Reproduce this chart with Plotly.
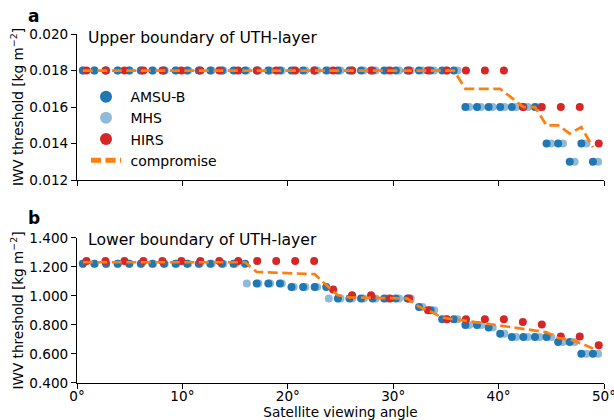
import plotly.graph_objects as go

# ---------------- data ----------------
amsub_angle = [0.55, 1.65, 2.75, 3.85, 4.95, 6.05, 7.15, 8.25, 9.35, 10.45, 11.55, 12.65, 13.75, 14.85, 15.95,
               17.05, 18.15, 19.25, 20.35, 21.45, 22.55, 23.65, 24.75, 25.85, 26.95, 28.05, 29.15, 30.25, 31.35,
               32.45, 33.55, 34.65, 35.75, 36.85, 37.95, 39.05, 40.15, 41.25, 42.35, 43.45, 44.55, 45.65, 46.75,
               47.85, 48.95]
mhs_angle = [0.56, 1.67, 2.78, 3.89, 5.00, 6.11, 7.22, 8.33, 9.44, 10.56, 11.67, 12.78, 13.89, 15.00, 16.11,
             17.22, 18.33, 19.44, 20.56, 21.67, 22.78, 23.89, 25.00, 26.11, 27.22, 28.33, 29.44, 30.56, 31.67,
             32.78, 33.89, 35.00, 36.11, 37.22, 38.33, 39.44, 40.56, 41.67, 42.78, 43.89, 45.00, 46.11, 47.22,
             48.33, 49.44]
hirs_angle = [0.9, 2.7, 4.5, 6.3, 8.1, 9.9, 11.7, 13.5, 15.3, 17.1, 18.9, 20.7, 22.5, 24.3, 26.1, 27.9, 29.7,
              31.5, 33.3, 35.1, 36.9, 38.7, 40.5, 42.3, 44.1, 45.9, 47.7, 49.5]

# upper boundary (panel a)
upper_amsub = [0.018, 0.018, 0.018, 0.018, 0.018, 0.018, 0.018, 0.018, 0.018, 0.018, 0.018, 0.018, 0.018,
               0.018, 0.018, 0.018, 0.018, 0.018, 0.018, 0.018, 0.018, 0.018, 0.018, 0.018, 0.018, 0.018,
               0.018, 0.018, 0.018, 0.018, 0.018, 0.018, 0.018, 0.016, 0.016, 0.016, 0.016, 0.016, 0.016,
               0.016, 0.014, 0.014, 0.013, 0.014, 0.013]
upper_mhs = [0.018, 0.018, 0.018, 0.018, 0.018, 0.018, 0.018, 0.018, 0.018, 0.018, 0.018, 0.018, 0.018,
             0.018, 0.018, 0.018, 0.018, 0.018, 0.018, 0.018, 0.018, 0.018, 0.018, 0.018, 0.018, 0.018,
             0.018, 0.018, 0.018, 0.018, 0.018, 0.018, 0.018, 0.016, 0.016, 0.016, 0.016, 0.016, 0.016,
             0.016, 0.014, 0.014, 0.013, 0.014, 0.013]
upper_hirs = [0.018, 0.018, 0.018, 0.018, 0.018, 0.018, 0.018, 0.018, 0.018, 0.018, 0.018, 0.018, 0.018,
              0.018, 0.018, 0.018, 0.018, 0.018, 0.018, 0.018, 0.018, 0.018, 0.018, 0.016, 0.016, 0.016,
              0.016, 0.014]
upper_comp = [0.018, 0.018, 0.018, 0.018, 0.018, 0.018, 0.018, 0.018, 0.018, 0.018, 0.018, 0.018, 0.018,
              0.018, 0.018, 0.018, 0.018, 0.018, 0.018, 0.018, 0.018, 0.018, 0.018, 0.018, 0.018, 0.018,
              0.018, 0.018, 0.018, 0.018, 0.018, 0.018, 0.018, 0.017, 0.017, 0.017, 0.017, 0.0165, 0.016,
              0.016, 0.015, 0.015, 0.01455, 0.0149, 0.0138]

# lower boundary (panel b)
lower_amsub = [1.222, 1.222, 1.222, 1.222, 1.222, 1.222, 1.222, 1.222, 1.222, 1.222, 1.222, 1.222, 1.222,
               1.222, 1.222, 1.085, 1.085, 1.085, 1.062, 1.062, 1.062, 1.062, 0.982, 0.982, 0.982, 0.982,
               0.982, 0.982, 0.982, 0.924, 0.901, 0.839, 0.839, 0.800, 0.800, 0.782, 0.740, 0.717, 0.717,
               0.717, 0.717, 0.683, 0.683, 0.602, 0.602]
lower_mhs = [1.222, 1.222, 1.222, 1.222, 1.222, 1.222, 1.222, 1.222, 1.222, 1.222, 1.222, 1.222, 1.222,
             1.222, 1.085, 1.085, 1.085, 1.085, 1.062, 1.062, 1.062, 0.982, 0.982, 0.982, 0.982, 0.982,
             0.982, 0.982, 0.982, 0.924, 0.901, 0.839, 0.839, 0.800, 0.800, 0.782, 0.740, 0.717, 0.717,
             0.717, 0.717, 0.683, 0.683, 0.602, 0.602]
lower_hirs = [1.241, 1.241, 1.241, 1.241, 1.241, 1.241, 1.241, 1.241, 1.241, 1.241, 1.241, 1.241, 1.241,
              1.044, 1.005, 1.005, 0.982, 0.982, 0.901, 0.839, 0.839, 0.839, 0.839, 0.821, 0.803, 0.720,
              0.720, 0.660]
lower_comp = [1.232, 1.232, 1.232, 1.232, 1.232, 1.232, 1.232, 1.232, 1.232, 1.232, 1.232, 1.232, 1.232,
              1.232, 1.232, 1.165, 1.162, 1.158, 1.155, 1.152, 1.150, 1.075, 1.005, 0.990, 0.988, 0.986,
              0.985, 0.984, 0.982, 0.925, 0.893, 0.850, 0.837, 0.829, 0.818, 0.807, 0.793, 0.782, 0.773,
              0.763, 0.750, 0.710, 0.700, 0.672, 0.637]

upper_ticks = [0.012, 0.014, 0.016, 0.018, 0.020]
lower_ticks = [0.4, 0.6, 0.8, 1.0, 1.2, 1.4]
x_ticks = [0, 10, 20, 30, 40, 50]
x_ticklabels = ["0°", "10°", "20°", "30°", "40°", "50°"]

# ---------------- style ----------------
FONT = "DejaVu Sans"
C_AMSUB = "#1f77b4"
C_MHS = "rgba(31,119,180,0.5)"
C_HIRS = "#d62728"
C_COMP = "#ff7f0e"
MS = 8

W, H = 614, 420
L, R, T, B = 77, 10, 34, 37.3
PH = H - T - B


def py(ypx):
    return (H - B - ypx) / PH


def px(xpx):
    return (xpx - L) / (W - L - R)


NB = "\u00a0"
fig = go.Figure()

panels = [
    ("x", "y", upper_amsub, upper_mhs, upper_hirs, upper_comp, True),
    ("x2", "y2", lower_amsub, lower_mhs, lower_hirs, lower_comp, False),
]
for xa, ya, v_a, v_m, v_h, v_c, leg in panels:
    fig.add_trace(go.Scatter(x=mhs_angle, y=v_m, mode="markers", name=NB + "MHS", legendrank=2,
                             marker=dict(color=C_MHS, size=MS, line=dict(width=0)),
                             xaxis=xa, yaxis=ya, showlegend=leg))
    fig.add_trace(go.Scatter(x=amsub_angle, y=v_a, mode="markers", name=NB + "AMSU-B", legendrank=1,
                             marker=dict(color=C_AMSUB, size=MS, line=dict(width=0)),
                             xaxis=xa, yaxis=ya, showlegend=leg))
    fig.add_trace(go.Scatter(x=hirs_angle, y=v_h, mode="markers", name=NB + "HIRS", legendrank=3,
                             marker=dict(color=C_HIRS, size=MS, line=dict(width=0)),
                             xaxis=xa, yaxis=ya, showlegend=leg))
    fig.add_trace(go.Scatter(x=amsub_angle, y=v_c, mode="lines", name=NB + "compromise", legendrank=4,
                             line=dict(color=C_COMP, width=2.7, dash="10px,4.5px"),
                             xaxis=xa, yaxis=ya, showlegend=leg))

axis_common = dict(showline=True, linecolor="black", linewidth=1.1, ticks="outside", ticklen=5,
                   tickwidth=1.1, tickcolor="black", showgrid=False, zeroline=False,
                   tickfont=dict(family=FONT, size=13.6, color="black"))
ytitle = dict(text="IWV threshold [kg m<sup>−2</sup>]", font=dict(family=FONT, size=13.6, color="black"),
              standoff=2)

fig.update_layout(
    width=W, height=H,
    margin=dict(l=L, r=R, t=T, b=B, autoexpand=False),
    paper_bgcolor="white", plot_bgcolor="white",
    font=dict(family=FONT, size=13.6, color="black"),
    xaxis=dict(domain=[0, 1], anchor="y", range=[0, 50], tickvals=x_ticks, showticklabels=False,
               matches="x2", **axis_common),
    yaxis=dict(domain=[py(180), 1], anchor="x", range=[0.012, 0.020], tickvals=upper_ticks,
               tickformat=".3f", title=ytitle, **axis_common),
    xaxis2=dict(domain=[0, 1], anchor="y2", range=[0, 50], tickmode="array", tickvals=x_ticks,
                ticktext=x_ticklabels, ticklabelstandoff=-4, ticklabeloverflow="allow",
                title=dict(text="Satellite viewing angle", font=dict(family=FONT, size=13.6, color="black"),
                           standoff=0),
                **axis_common),
    yaxis2=dict(domain=[0, py(237.7)], anchor="x2", range=[0.4, 1.4], tickvals=lower_ticks,
                tickformat=".3f", title=ytitle, **axis_common),
    legend=dict(x=px(86), y=py(81), xanchor="left", yanchor="top", bgcolor="rgba(0,0,0,0)",
                itemsizing="constant", font=dict(family=FONT, size=14, color="black"),
                tracegroupgap=0),
    showlegend=True,
)

annots = [
    dict(text="<b>a</b>", x=px(26), y=py(16), xanchor="left", yanchor="middle", size=17),
    dict(text="<b>b</b>", x=px(26), y=py(218), xanchor="left", yanchor="middle", size=17),
    dict(text="Upper boundary of UTH-layer", x=px(86), y=py(38), xanchor="left", yanchor="middle", size=15.6),
    dict(text="Lower boundary of UTH-layer", x=px(86), y=py(240), xanchor="left", yanchor="middle", size=15.6),
]
for a in annots:
    fig.add_annotation(text=a["text"], x=a["x"], y=a["y"], xref="paper", yref="paper",
                       xanchor=a["xanchor"], yanchor=a["yanchor"], showarrow=False,
                       font=dict(family=FONT, size=a["size"], color="black"))

fig.write_html("out.html")
